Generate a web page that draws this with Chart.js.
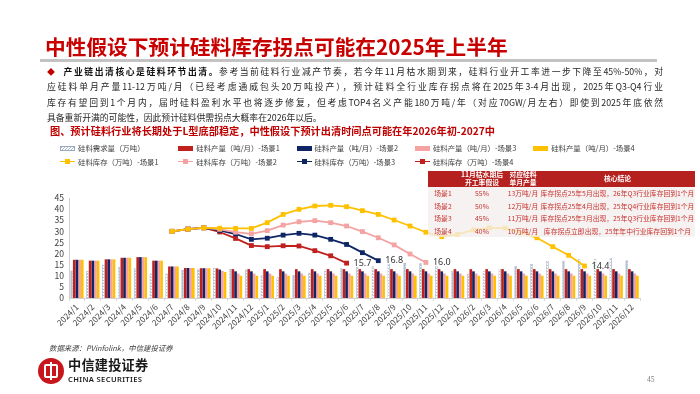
<!DOCTYPE html>
<html><head><meta charset="utf-8">
<script src="https://cdn.jsdelivr.net/npm/chart.js@4.4.1/dist/chart.umd.min.js"></script>
<style>
body{margin:0;background:#fff;}
#page{position:relative;width:700px;height:394px;overflow:hidden;background:#fff;font-family:'Noto Sans CJK SC','Noto Sans',sans-serif;}
#title{position:absolute;left:45px;top:34px;font-size:20.7px;line-height:24px;font-weight:700;color:#C80000;white-space:nowrap;z-index:2;}
#rule{position:absolute;left:40px;top:59px;width:617px;height:2.5px;background:#C3C3C3;z-index:2;}
#para{position:absolute;left:47px;top:64px;width:616px;font-size:8.8px;line-height:15.4px;color:#262626;z-index:2;}
#para .ln{text-align:justify;text-align-last:justify;white-space:nowrap;height:15.4px;}
#para .ln.last{text-align-last:left;}
#para .dia{color:#C00000;display:inline-block;width:15px;font-size:8px;}
#para b{font-weight:700;color:#111;}
#cap{position:absolute;left:50px;top:124px;font-size:10.2px;line-height:14px;font-weight:700;color:#C00000;white-space:nowrap;z-index:2;}
#legend{position:absolute;left:60px;top:142px;z-index:2;font-size:7.4px;color:#404040;}
.li{position:absolute;white-space:nowrap;height:12px;line-height:12px;}
.sym{display:inline-block;width:15px;height:12px;position:relative;vertical-align:top;margin-right:3px;}
.box{position:absolute;left:0;top:3.5px;width:15px;height:5px;}
.hl{position:absolute;left:0;top:5.3px;width:15px;height:1.6px;}
.mk{position:absolute;left:5px;top:3.6px;width:5px;height:5px;}
canvas{position:absolute;left:0;top:0;z-index:1;}
#tbl{position:absolute;left:428px;top:171px;width:267px;border-collapse:collapse;table-layout:fixed;z-index:3;font-size:6.8px;}
#tbl th{background:#B5211F;color:#fff;font-weight:700;height:16px;padding:0;line-height:7.6px;text-align:center;}
#tbl td{background:rgba(244,238,238,0.78);color:#C6302B;height:12.6px;padding:0;text-align:center;white-space:nowrap;line-height:12.6px;}
#src{position:absolute;left:49px;top:342px;font-size:7.4px;font-style:italic;color:#404040;z-index:2;white-space:nowrap;}
#logo{position:absolute;left:38px;top:358px;width:26px;height:26px;border-radius:50%;background:#C8161D;z-index:2;}
#logo .r{position:absolute;left:6px;top:6px;width:10px;height:10px;border:2px solid #fff;border-radius:2px;}
#logo .v{position:absolute;left:12px;top:4px;width:2px;height:18px;background:#fff;}
#cn{position:absolute;left:68px;top:357px;font-size:13.2px;font-weight:700;color:#1a1a1a;letter-spacing:0.2px;z-index:2;white-space:nowrap;line-height:16px;}
#en{position:absolute;left:68px;top:374px;font-family:'Noto Sans',sans-serif;font-size:7.6px;font-weight:600;color:#1a1a1a;letter-spacing:0.35px;z-index:2;white-space:nowrap;line-height:10px;}
#pg{position:absolute;left:647px;top:375px;font-family:'Liberation Serif',serif;font-size:7.5px;color:#808080;z-index:2;}
</style></head><body>
<div id="page">
  <div id="title">中性假设下预计硅料库存拐点可能在2025年上半年</div>
  <div id="rule"></div>
  <div id="para">
    <div class="ln"><span class="dia">◆</span><b>产业链出清核心是硅料环节出清。</b>参考当前硅料行业减产节奏，若今年11月枯水期到来，硅料行业开工率进一步下降至45%-50%，对</div>
    <div class="ln">应硅料单月产量11-12万吨/月（已经考虑通威包头20万吨投产），预计硅料全行业库存拐点将在2025年3-4月出现，2025年Q3-Q4行业</div>
    <div class="ln">库存有望回到1个月内，届时硅料盈利水平也将逐步修复，但考虑TOP4名义产能180万吨/年（对应70GW/月左右）即使到2025年底依然</div>
    <div class="ln last">具备重新开满的可能性，因此预计硅料供需拐点大概率在2026年以后。</div>
  </div>
  <div id="cap">图、预计硅料行业将长期处于L型底部稳定，中性假设下预计出清时间点可能在年2026年初-2027中</div>
  <div id="legend"></div>
  <canvas id="c" width="700" height="394"></canvas>
  <table id="tbl"></table>
  <div id="src">数据来源：PVinfolink，中信建投证券</div>
  <div id="logo"><div class="r"></div><div class="v"></div></div>
  <div id="cn">中信建投证券</div>
  <div id="en">CHINA SECURITIES</div>
  <div id="pg">45</div>
</div>
<script>
// ---------- data ----------
const categories = ['2024/1','2024/2','2024/3','2024/4','2024/5','2024/6','2024/7','2024/8','2024/9','2024/10','2024/11','2024/12',
  '2025/1','2025/2','2025/3','2025/4','2025/5','2025/6','2025/7','2025/8','2025/9','2025/10','2025/11','2025/12',
  '2026/1','2026/2','2026/3','2026/4','2026/5','2026/6','2026/7','2026/8','2026/9','2026/10','2026/11','2026/12'];

const demand = [12.4,12.3,15.0,14.0,13.4,11.0,11.0,12.6,13.2,13.5,13.1,12.8,
  10.4,9.3,10.4,11.4,12.4,13.4,14.1,14.5,15.4,15.7,15.6,14.4,
  12.0,10.9,12.0,13.2,14.4,15.3,16.8,16.8,17.4,17.7,18.0,17.0];

const prodS1 = [17.2,16.8,17.4,18.1,18.4,16.8,14.2,13.5,13.4,13.3,13.0,13,
  13,13,13,13,13,13,13,13,13,13,13,13, 13,13,13,13,13,13,13,13,13,13,13,13];
const prodS2 = [17.2,16.8,17.4,18.1,18.4,16.8,14.2,13.5,13.4,12.8,12.0,12,
  12,12,12,12,12,12,12,12,12,12,12,12, 12,12,12,12,12,12,12,12,12,12,12,12];
const prodS3 = [17.2,16.8,17.4,18.1,18.4,16.8,14.2,13.5,13.4,12.2,11.0,11,
  11,11,11,11,11,11,11,11,11,11,11,11, 11,11,11,11,11,11,11,11,11,11,11,11];
const prodS4 = [17.2,16.8,17.4,18.1,18.4,16.8,14.2,13.5,13.4,11.7,10.0,10,
  10,10,10,10,10,10,10,10,10,10,10,10, 10,10,10,10,10,10,10,10,10,10,10,10];

const invS1 = [null,null,null,null,null,null,30.0,31.0,31.6,31.4,31.3,31.3,
  33.9,37.6,39.9,41.4,41.7,41.1,39.3,37.6,35.1,32.4,29.6,27.6,
  28.6,30.6,31.6,31.4,29.4,27.1,23.1,19.2,14.4,null,null,null];
const invS2 = [null,null,null,null,null,null,30.0,31.0,31.6,30.9,29.6,28.9,
  30.3,32.8,34.3,34.8,33.9,32.4,29.9,27.1,23.9,19.8,16.0,null,
  null,null,null,null,null,null,null,null,null,null,null,null];
const invS3 = [null,null,null,null,null,null,30.0,31.0,31.6,30.4,28.8,26.4,
  26.9,28.3,29.1,28.3,26.4,24.1,20.4,16.8,null,null,null,null,
  null,null,null,null,null,null,null,null,null,null,null,null];
const invS4 = [null,null,null,null,null,null,30.0,31.0,31.6,29.7,26.8,23.6,
  23.1,23.5,23.4,21.3,19.0,15.7,null,null,null,null,null,null,
  null,null,null,null,null,null,null,null,null,null,null,null];

const yTicks = [0,5,10,15,20,25,30,35,40,45];

// table
const tblHead = ['', '11月枯水期后<br>开工率假设', '对应硅料<br>单月产量', '核心结论'];
const scenarios = ['场景1','场景2','场景3','场景4'];
const rates = ['55%','50%','45%','40%'];
const outputs = ['13万吨/月','12万吨/月','11万吨/月','10万吨/月'];
const conclusions = ['库存拐点25年5月出现，26年Q3行业库存回到1个月','库存拐点25年4月出现，25年Q4行业库存回到1个月','库存拐点25年3月出现，25年Q3行业库存回到1个月','库存拐点立即出现，25年年中行业库存回到1个月'];

// ---------- build table ----------
(function(){
  const t = document.getElementById('tbl');
  let h = '<colgroup><col style="width:30px"><col style="width:48px"><col style="width:34px"><col style="width:155px"></colgroup>';
  h += '<tr>' + tblHead.map(x=>'<th>'+x+'</th>').join('') + '</tr>';
  for (let i=0;i<scenarios.length;i++){
    h += '<tr><td>'+scenarios[i]+'</td><td>'+rates[i]+'</td><td>'+outputs[i]+'</td><td>'+conclusions[i]+'</td></tr>';
  }
  t.innerHTML = h;
})();

// ---------- chart ----------
const RED='#C0201E', NAVY='#0F2666', PINK='#F4A2A2', YEL='#FFC000';
const FONT="'Noto Sans CJK SC','Noto Sans',sans-serif";
Chart.defaults.font.family = FONT;

function hatch(){
  const p=document.createElement('canvas'); p.width=3; p.height=3;
  const g=p.getContext('2d');
  g.fillStyle='#B7C0CF'; g.fillRect(0,0,3,3);
  g.fillStyle='#FFFFFF'; g.fillRect(1,0,1,1); g.fillRect(0,2,2,1);
  return g.createPattern(p,'repeat');
}
const hatchPat = hatch();

const endLabels = {
  id:'endLabels',
  afterDatasetsDraw(chart){
    const ctx=chart.ctx;
    chart.data.datasets.forEach((ds,i)=>{
      if(ds.type!=='line') return;
      const meta=chart.getDatasetMeta(i);
      let last=-1; ds.data.forEach((v,j)=>{ if(v!=null) last=j; });
      if(last<0) return;
      const pt=meta.data[last];
      ctx.save();
      ctx.font="9px 'Noto Sans',sans-serif";
      ctx.fillStyle='#333';
      ctx.textAlign='left'; ctx.textBaseline='middle';
      ctx.fillText(ds.data[last].toFixed(1), pt.x+7, pt.y);
      ctx.restore();
    });
  }
};

function lineDs(label,data,color){
  return {type:'line',label,data,borderColor:color,backgroundColor:color,borderWidth:1.8,
    pointStyle:'rect',pointRadius:3.4,pointBackgroundColor:color,pointBorderColor:color,pointBorderWidth:0,
    spanGaps:false,tension:0,order:0,legendKind:'line'};
}
function barDs(label,data,color,extra){
  return Object.assign({type:'bar',label,data,backgroundColor:color,borderWidth:0,order:1,
    categoryPercentage:0.84,barPercentage:1.0,legendKind:'box'},extra||{});
}

const chart = new Chart(document.getElementById('c'), {
  type:'bar',
  data:{
    labels:categories,
    datasets:[
      barDs('硅料需求量（万吨）',demand,hatchPat,{borderColor:'#9AA8BE',borderWidth:0.6,legendKind:'hatch'}),
      barDs('硅料产量（吨/月）-场景1',prodS1,RED),
      barDs('硅料产量（吨/月）-场景2',prodS2,NAVY),
      barDs('硅料产量（吨/月）-场景3',prodS3,PINK),
      barDs('硅料产量（吨/月）-场景4',prodS4,YEL),
      lineDs('硅料库存（万吨）-场景1',invS1,YEL),
      lineDs('硅料库存（万吨）-场景2',invS2,PINK),
      lineDs('硅料库存（万吨）-场景3',invS3,NAVY),
      lineDs('硅料库存（万吨）-场景4',invS4,RED)
    ]
  },
  options:{
    responsive:false, animation:false, devicePixelRatio:1,
    layout:{padding:{left:0,right:60,top:198,bottom:56}},
    plugins:{legend:{display:false},tooltip:{enabled:false}},
    scales:{
      x:{
        offset:true,
        grid:{display:true,drawOnChartArea:false,drawTicks:true,tickLength:3,color:'#D9D9D9',offset:true},
        border:{display:true,color:'#D0D0D0',width:1},
        ticks:{minRotation:45,maxRotation:45,autoSkip:false,padding:1,color:'#404040',font:{size:8.4}},
        afterFit(s){ s.height=40; }
      },
      y:{
        min:yTicks[0],max:yTicks[yTicks.length-1],
        afterBuildTicks(s){ s.ticks = yTicks.map(v=>({value:v})); },
        grid:{display:false,drawTicks:false},
        border:{display:true,color:'#D0D0D0',width:1},
        ticks:{autoSkip:false,padding:5,color:'#404040',font:{size:8.6}},
        afterFit(s){ s.width=69; }
      }
    }
  },
  plugins:[endLabels]
});

// ---------- HTML legend built from the chart's datasets ----------
(function(){
  const lg=document.getElementById('legend');
  const ds=chart.data.datasets;
  const order=[[0,1,2,3,4],[5,6,7,8]];
  order.forEach((row,r)=>{
    row.forEach((di,c)=>{
      const d=ds[di];
      const el=document.createElement('div');
      el.className='li';
      el.style.left=(c*118.3)+'px';
      el.style.top=(r*13.6)+'px';
      let sym='';
      if(d.legendKind==='hatch'){
        sym='<span class="sym"><span class="box" style="background:repeating-linear-gradient(135deg,#AEB8C8 0 1px,#fff 1px 2.2px);border:0.6px solid #9AA8BE;box-sizing:border-box"></span></span>';
      } else if(d.legendKind==='box'){
        sym='<span class="sym"><span class="box" style="background:'+d.backgroundColor+'"></span></span>';
      } else {
        sym='<span class="sym"><span class="hl" style="background:'+d.borderColor+'"></span><span class="mk" style="background:'+d.borderColor+'"></span></span>';
      }
      el.innerHTML=sym+d.label;
      lg.appendChild(el);
    });
  });
})();
</script>
</body></html>
